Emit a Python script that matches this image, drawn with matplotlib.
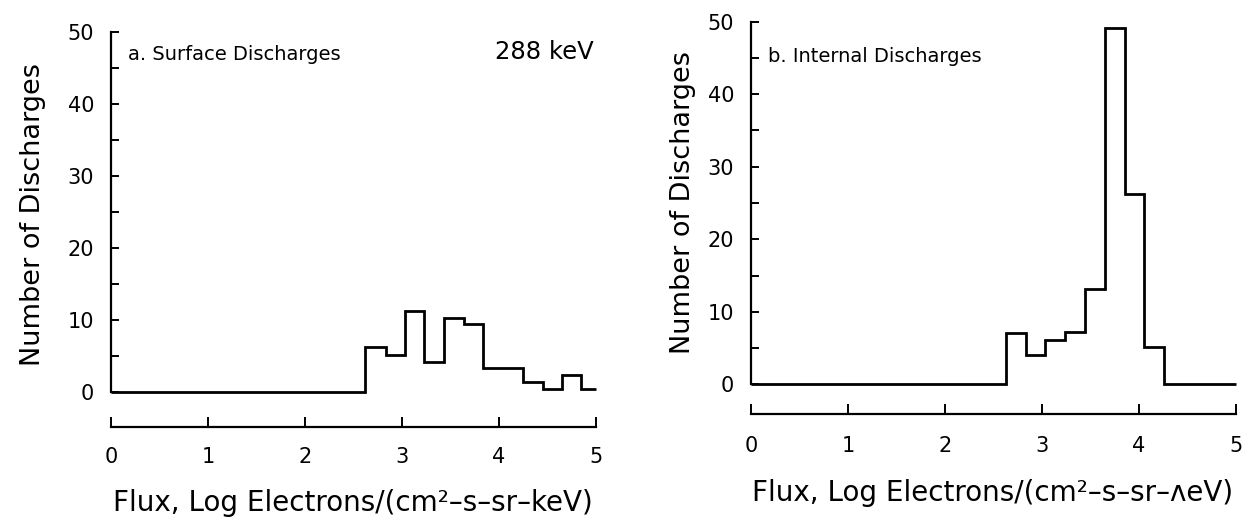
import matplotlib
matplotlib.use('Agg')
import matplotlib.pyplot as plt
from matplotlib.ticker import MultipleLocator

# bin edges (log flux) and counts
bordas_a = [0, 2.62, 2.83, 3.03, 3.23, 3.43, 3.64, 3.84, 4.05, 4.25, 4.45, 4.65, 4.85, 5.0]
contagem_a = [0, 6.25, 5.2, 11.25, 4.2, 10.3, 9.4, 3.3, 3.3, 1.4, 0.4, 2.4, 0.4]

bordas_b = [0, 2.634, 2.837, 3.035, 3.238, 3.444, 3.651, 3.853, 4.052, 4.258, 5.0]
contagem_b = [0, 7.1, 4.0, 6.1, 7.2, 13.1, 49.2, 26.2, 5.2, 0]

ticks_x = [0, 1, 2, 3, 4, 5]
ticks_y = [0, 10, 20, 30, 40, 50]

plt.rcParams['font.family'] = ['DejaVu Sans']

W, H = 1248, 523
fig = plt.figure(figsize=(W / 100, H / 100), dpi=100)


def painel(x0, x1, ytop, y0, offset_px, pad_x):
    ax = fig.add_axes([x0 / W, 1 - y0 / H, (x1 - x0) / W, (y0 - ytop) / H])
    ax.set_xlim(0, 5)
    ax.set_ylim(0, 50)
    ax.spines['top'].set_visible(False)
    ax.spines['right'].set_visible(False)
    ax.spines['left'].set_linewidth(1.6)
    ax.spines['bottom'].set_linewidth(1.6)
    ax.spines['bottom'].set_position(('outward', offset_px * 0.72))
    ax.set_xticks(ticks_x)
    ax.set_yticks(ticks_y)
    ax.yaxis.set_minor_locator(MultipleLocator(5))
    ax.tick_params(axis='x', direction='in', length=7.5, width=1.4,
                   labelsize=15, pad=pad_x)
    ax.tick_params(axis='y', which='both', direction='in', length=5.5,
                   width=1.4, labelsize=15, pad=12)
    ax.patch.set_visible(False)
    return ax


ax1 = painel(111, 596, 31.7, 392, 35, 14.5)
ax1.stairs(contagem_a, bordas_a, baseline=None, color='black',
           linewidth=2.0, clip_on=False)
ax1.text(127.6 / W, 1 - 54 / H, 'a. Surface Discharges', transform=fig.transFigure,
         fontsize=14, ha='left', va='center')
ax1.text(594 / W, 1 - 52 / H, '288 keV', transform=fig.transFigure,
         fontsize=17.5, ha='right', va='center')

ax2 = painel(751, 1236, 21.7, 384.3, 30, 15.5)
ax2.stairs(contagem_b, bordas_b, baseline=None, color='black',
           linewidth=2.0, clip_on=False)
ax2.text(767.5 / W, 1 - 57 / H, 'b. Internal Discharges', transform=fig.transFigure,
         fontsize=14, ha='left', va='center')

# axis titles
fig.text(33 / W, 1 - 215 / H, 'Number of Discharges', rotation=90,
         fontsize=19.5, ha='center', va='center')
fig.text(683 / W, 1 - 203 / H, 'Number of Discharges', rotation=90,
         fontsize=19.5, ha='center', va='center')
fig.text(353 / W, 1 - 503 / H, 'Flux, Log Electrons/(cm²–s–sr–keV)',
         fontsize=20, ha='center', va='center')
fig.text(993 / W, 1 - 493 / H, 'Flux, Log Electrons/(cm²–s–sr–ʌeV)',
         fontsize=20, ha='center', va='center')

fig.savefig('out.png', dpi=100)
